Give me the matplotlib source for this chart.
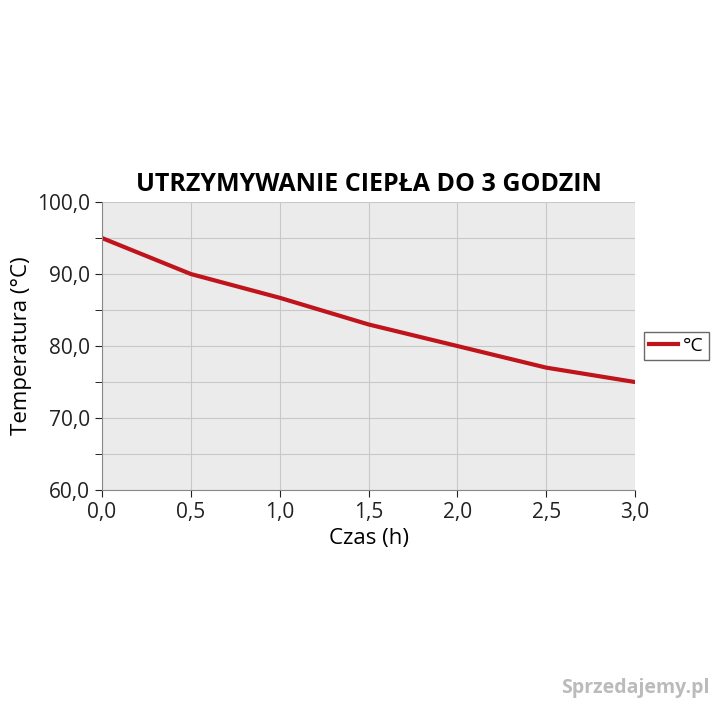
import matplotlib.pyplot as plt
from matplotlib.ticker import MultipleLocator, FuncFormatter

# dane
czas = [0.0, 0.5, 1.0, 1.5, 2.0, 2.5, 3.0]
temperatura = [95.0, 90.0, 86.7, 83.0, 80.0, 77.0, 75.0]

plt.rcParams['font.family'] = ['Open Sans', 'DejaVu Sans']

fig = plt.figure(figsize=(7.2, 7.2), dpi=100)
ax = fig.add_axes([0.1417, 0.3194, 0.7403, 0.4])
ax.set_facecolor('#ebebeb')

ax.plot(czas, temperatura, color='#c0141c', lw=3, label='°C')

ax.set_xlim(0, 3)
ax.set_ylim(60, 100)
ax.xaxis.set_major_locator(MultipleLocator(0.5))
ax.yaxis.set_major_locator(MultipleLocator(10))
ax.yaxis.set_minor_locator(MultipleLocator(5))
fmt = FuncFormatter(lambda v, p: f"{v:.1f}".replace('.', ','))
ax.xaxis.set_major_formatter(fmt)
ax.yaxis.set_major_formatter(fmt)
ax.grid(True, which='both', color='#c8c8c8', lw=0.8)
ax.set_axisbelow(True)
for s in ['top', 'right']:
    ax.spines[s].set_visible(False)
for s in ['left', 'bottom']:
    ax.spines[s].set_color('#888888')
ax.tick_params(labelsize=15, colors='#222222', length=5)
ax.tick_params(which='minor', length=5)

ax.set_xlabel('Czas (h)', fontsize=16, labelpad=4)
ax.set_ylabel('Temperatura (°C)', fontsize=16)
ax.set_title('UTRZYMYWANIE CIEPŁA DO 3 GODZIN', fontsize=18, fontweight='bold', pad=8)

ax.legend(loc='center left', bbox_to_anchor=(1.01, 0.5), fontsize=14, frameon=True,
          fancybox=False, edgecolor='#444444', handlelength=1.5, borderpad=0.25,
          handletextpad=0.25, borderaxespad=0.2)

fig.text(0.985, 0.03, 'Sprzedajemy.pl', ha='right', va='bottom', fontsize=14,
         color='#bbbbbb', fontweight='bold')

fig.savefig('out.png', dpi=100)
